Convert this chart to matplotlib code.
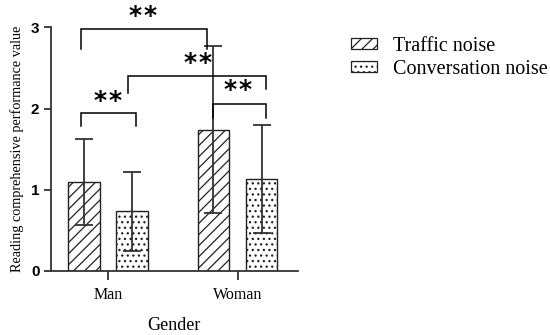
import matplotlib.pyplot as plt
import numpy as np
from matplotlib.patches import Patch

genders = ['Man', 'Woman']
traffic_mean = [1.09, 1.74]
traffic_sd = [0.53, 1.03]
conv_mean = [0.73, 1.13]
conv_sd = [0.49, 0.67]
series_names = ['Traffic noise', 'Conversation noise']

plt.rcParams['hatch.linewidth'] = 0.9

fig = plt.figure(figsize=(5.5, 3.35), dpi=100)
ax = fig.add_axes([0.092, 0.192, 0.449, 0.726])

x = np.arange(len(genders))
off = 0.186
w = 0.244
ecol = '#333333'

xt = x - off
xc = x + off
ax.bar(xt, traffic_mean, w, color='white', edgecolor='#222222', hatch='///', lw=1.0, zorder=2)
ax.bar(xc, conv_mean, w, color='white', edgecolor='#222222', hatch='...', lw=1.0, zorder=2)
ax.errorbar(xt, traffic_mean, yerr=traffic_sd, fmt='none', ecolor=ecol, elinewidth=1.3,
            capsize=6.3, capthick=1.3, zorder=3)
ax.errorbar(xc, conv_mean, yerr=conv_sd, fmt='none', ecolor=ecol, elinewidth=1.3,
            capsize=6.3, capthick=1.3, zorder=3)

ax.set_xlim(-0.442, 1.463)
ax.set_ylim(0, 3)
ax.set_yticks([0, 1, 2, 3])
ax.set_yticklabels(['0', '1', '2', '3'], fontfamily='Liberation Sans', fontweight='bold', fontsize=11)
ax.set_xticks(x)
ax.set_xticklabels(genders, fontfamily='Liberation Serif', fontsize=11.5)
ax.tick_params(axis='y', length=5, width=1.3, color=ecol, pad=3)
ax.tick_params(axis='x', length=6.5, width=1.3, color=ecol, pad=5)
for s in ['top', 'right']:
    ax.spines[s].set_visible(False)
for s in ['left', 'bottom']:
    ax.spines[s].set_linewidth(1.3)
    ax.spines[s].set_color(ecol)

ax.set_ylabel('Reading comprehensive performance value', fontfamily='Liberation Serif',
              fontsize=10.3, labelpad=5)
ax.set_xlabel('Gender', fontfamily='Liberation Serif', fontsize=13, labelpad=10)

star_fs = 18


def bracket(x1, x2, yl1, yl2, yh, sx, sy):
    ax.plot([x1, x1, x2, x2], [yl1, yh, yh, yl2], color='black', lw=1.1,
            clip_on=False, zorder=4, solid_joinstyle='miter')
    # two asterisks, a bit apart; glyph sits high so shift down to centre on sy
    for dx in (-5.3, 5.3):
        ax.annotate('*', (sx, sy), xytext=(dx, -0.45 * star_fs), textcoords='offset points',
                    ha='center', va='baseline', fontsize=star_fs, fontweight='bold',
                    fontfamily='DejaVu Sans', annotation_clip=False)


bracket(xt[0] - 0.02, xt[1] - 0.05, 2.73, 2.73, 2.98, 0.27, 3.20)
bracket(xc[0] - 0.03, xc[1] + 0.03, 2.19, 2.24, 2.40, 0.69, 2.62)
bracket(xt[0] - 0.02, xc[0] + 0.03, 1.79, 1.79, 1.94, 0.0, 2.15)
bracket(xt[1], xc[1] + 0.03, 1.88, 1.88, 2.06, 1.0, 2.28)

handles = [Patch(facecolor='white', edgecolor='#222222', hatch='///', lw=0.9),
           Patch(facecolor='white', edgecolor='#222222', hatch='...', lw=0.9)]
fig.legend(handles, series_names, loc='upper left', bbox_to_anchor=(0.639, 0.89),
           frameon=False, prop={'family': 'Liberation Serif', 'size': 14.5},
           handlelength=1.25, handleheight=0.5, handletextpad=0.8, labelspacing=0.2,
           borderaxespad=0, borderpad=0)

fig.savefig('out.png', dpi=100)
